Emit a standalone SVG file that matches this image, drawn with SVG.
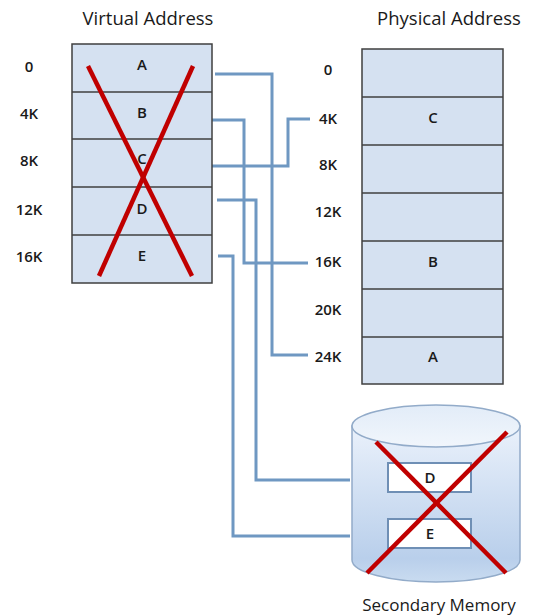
<svg xmlns="http://www.w3.org/2000/svg" width="533" height="616" viewBox="0 0 533 616">
<defs>
<style>
.title{font-family:"Open Sans","Liberation Sans",sans-serif;font-size:18.5px;fill:#1a1a1a;text-anchor:middle}
.lbl{font-family:"Open Sans","Liberation Sans",sans-serif;font-size:15px;font-weight:600;fill:#1a1a1a;text-anchor:middle}
.cell{fill:#d5e1f1;stroke:#3f3f3f;stroke-width:1.5}
.sep{stroke:#3f3f3f;stroke-width:1.5}
.cross{stroke:#c00000;stroke-width:4.5;stroke-linecap:butt}
.conn{fill:none;stroke:#6f98c2;stroke-width:3}
.box{fill:#ffffff;stroke:#6f8fb5;stroke-width:2}
</style>
<linearGradient id="cyl" x1="0" y1="0" x2="0" y2="1">
<stop offset="0" stop-color="#eaf1fb"/>
<stop offset="0.85" stop-color="#b9cfeb"/>
<stop offset="1" stop-color="#c9dbf0"/>
</linearGradient>
<linearGradient id="topg" x1="0" y1="0" x2="0" y2="1">
<stop offset="0" stop-color="#e2ecf8"/>
<stop offset="1" stop-color="#f1f6fc"/>
</linearGradient>
</defs>
<rect width="533" height="616" fill="#ffffff"/>

<g id="connectors">
<polyline class="conn" points="215,74 272,74 272,355 308,355"/>
<polyline class="conn" points="210,120 244,120 244,263 308,263"/>
<polyline class="conn" points="212,166 288,166 288,119 310,119"/>
<polyline class="conn" points="217,200 256,200 256,480 350,480"/>
<polyline class="conn" points="218,256 233,256 233,536 350,536"/>
</g>

<g id="virtual-address">
<text class="title" x="148" y="25">Virtual Address</text>
<rect class="cell" x="72" y="44" width="140" height="239"/>
<line class="sep" x1="72" y1="92" x2="212" y2="92"/>
<line class="sep" x1="72" y1="139" x2="212" y2="139"/>
<line class="sep" x1="72" y1="187" x2="212" y2="187"/>
<line class="sep" x1="72" y1="235" x2="212" y2="235"/>
<text class="lbl" x="142" y="70">A</text>
<text class="lbl" x="142" y="118">B</text>
<text class="lbl" x="142" y="164">C</text>
<text class="lbl" x="142" y="214">D</text>
<text class="lbl" x="142" y="261">E</text>
<text class="lbl" x="29" y="72">0</text>
<text class="lbl" x="29" y="119">4K</text>
<text class="lbl" x="29" y="166">8K</text>
<text class="lbl" x="29" y="215">12K</text>
<text class="lbl" x="29" y="262">16K</text>
<line class="cross" x1="88" y1="66" x2="192" y2="276"/>
<line class="cross" x1="193" y1="66" x2="99" y2="276"/>
</g>

<g id="physical-address">
<text class="title" x="449" y="25">Physical Address</text>
<rect class="cell" x="362" y="49" width="141" height="335"/>
<line class="sep" x1="362" y1="97" x2="503" y2="97"/>
<line class="sep" x1="362" y1="145" x2="503" y2="145"/>
<line class="sep" x1="362" y1="193" x2="503" y2="193"/>
<line class="sep" x1="362" y1="241" x2="503" y2="241"/>
<line class="sep" x1="362" y1="289" x2="503" y2="289"/>
<line class="sep" x1="362" y1="337" x2="503" y2="337"/>
<text class="lbl" x="433" y="123">C</text>
<text class="lbl" x="433" y="267">B</text>
<text class="lbl" x="433" y="362">A</text>
<text class="lbl" x="328" y="75">0</text>
<text class="lbl" x="328" y="124">4K</text>
<text class="lbl" x="328" y="170">8K</text>
<text class="lbl" x="328" y="217">12K</text>
<text class="lbl" x="328" y="267">16K</text>
<text class="lbl" x="328" y="315">20K</text>
<text class="lbl" x="328" y="362">24K</text>
</g>

<g id="secondary-memory">
<path d="M352,426 L352,560 A84,22 0 0 0 520,560 L520,426 Z" fill="url(#cyl)" stroke="#92abc9" stroke-width="1.5"/>
<ellipse cx="436" cy="426" rx="84" ry="21" fill="url(#topg)" stroke="#92abc9" stroke-width="1.5"/>
<rect class="box" x="388" y="463" width="83" height="29"/>
<rect class="box" x="388" y="519" width="83" height="29"/>
<text class="lbl" x="430" y="483">D</text>
<text class="lbl" x="430" y="539">E</text>
<line class="cross" x1="376" y1="442" x2="506" y2="573"/>
<line class="cross" x1="507" y1="432" x2="367" y2="573"/>
<text class="title" x="439" y="611" style="font-size:17px">Secondary Memory</text>
</g>
</svg>
